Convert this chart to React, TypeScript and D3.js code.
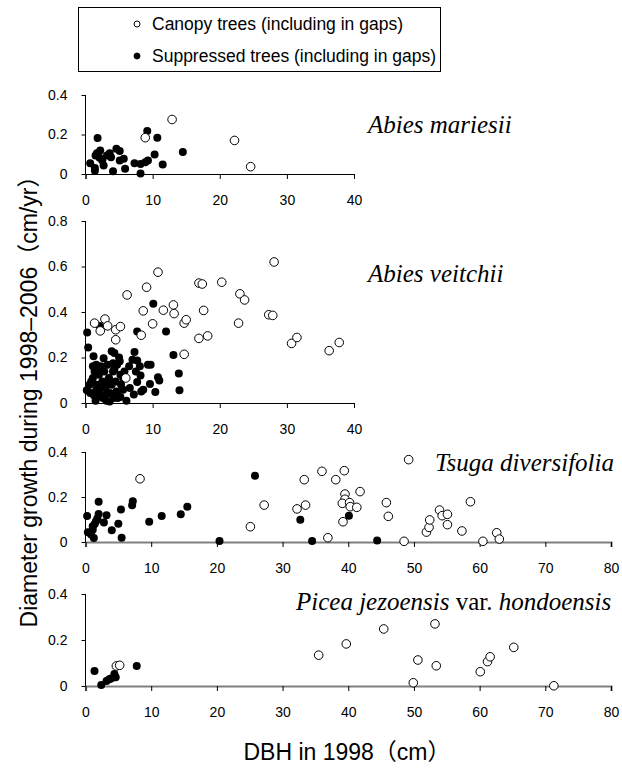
import React, { useEffect, useRef } from "react";
import * as d3 from "d3";

type Pt = [number, number]; // [DBH cm, growth cm/yr]

// Abies mariesii
const mariesiiCanopy: Pt[] = [[12.9, 0.276], [8.9, 0.184], [22.2, 0.17], [24.6, 0.037]];
const mariesiiSuppressed: Pt[] = [
  [0.7, 0.054], [1.4, 0.031], [1.4, 0.017], [1.8, 0.182], [1.5, 0.094], [1.7, 0.105],
  [2.2, 0.119], [2.1, 0.082], [2.5, 0.068], [2.7, 0.043], [3.2, 0.094], [3.6, 0.105],
  [3.8, 0.085], [4.6, 0.128], [5.1, 0.116], [5.1, 0.068], [5.7, 0.077], [5.9, 0.026],
  [4.1, 0.014], [7.3, 0.054], [8.2, 0.051], [8.2, 0.003], [8.9, 0.06], [9.3, 0.068],
  [9.2, 0.218], [10.3, 0.099], [10.7, 0.184], [11.5, 0.048], [14.5, 0.111],
];

// Abies veitchii
const veitchiiCanopy: Pt[] = [
  [1.35, 0.351], [2.2, 0.317], [2.9, 0.369], [3.3, 0.339], [4.5, 0.278], [4.5, 0.322],
  [5.2, 0.336], [6.2, 0.475], [8.3, 0.298], [8.6, 0.405], [9.1, 0.509], [10.0, 0.348],
  [10.8, 0.575], [11.6, 0.408], [13.1, 0.431], [13.2, 0.393], [14.7, 0.351], [15.0, 0.366],
  [14.7, 0.214], [16.9, 0.527], [17.4, 0.523], [17.6, 0.407], [16.9, 0.284], [18.2, 0.295],
  [20.3, 0.531], [23.0, 0.48], [23.7, 0.453], [22.8, 0.351], [27.3, 0.388], [27.9, 0.385],
  [28.1, 0.62], [30.7, 0.262], [31.5, 0.288], [36.3, 0.23], [37.8, 0.266], [6.0, 0.11],
];
const veitchiiSuppressed: Pt[] = [
  [0.25, 0.31], [0.4, 0.244], [2.1, 0.338], [1.2, 0.205], [10.1, 0.436], [7.7, 0.314],
  [12.0, 0.314], [13.1, 0.211], [13.9, 0.13], [14.0, 0.056], [10.4, 0.048], [9.6, 0.083],
  [10.8, 0.113], [11.0, 0.099], [9.3, 0.168], [9.7, 0.168], [7.3, 0.224], [7.7, 0.187],
  [7.0, 0.19], [8.1, 0.161], [8.2, 0.121], [7.5, 0.139], [6.5, 0.161], [7.7, 0.092],
  [8.3, 0.051], [8.6, 0.058], [7.2, 0.037], [6.1, 0.01], [5.2, 0.026], [6.6, 0.066],
  [5.6, 0.058], [0.2, 0.056], [0.6, 0.08], [0.7, 0.044], [1.1, 0.11], [1.1, 0.161],
  [1.25, 0.034], [1.5, 0.01], [1.6, 0.168], [1.7, 0.08], [2.0, 0.124], [2.1, 0.051],
  [2.3, 0.161], [2.5, 0.095], [2.6, 0.022], [2.8, 0.139], [3.0, 0.066], [3.1, 0.01],
  [3.3, 0.168], [3.5, 0.11], [3.6, 0.044], [3.9, 0.08], [3.9, 0.227], [4.1, 0.139],
  [4.2, 0.022], [4.3, 0.22], [4.5, 0.095], [4.6, 0.051], [4.7, 0.168], [5.0, 0.2],
  [5.1, 0.183], [5.2, 0.124], [5.3, 0.08], [5.6, 0.11], [5.8, 0.139], [1.85, 0.029],
  [1.35, 0.139], [2.7, 0.197], [3.2, 0.04], [2.35, 0.08], [4.1, 0.175], [2.0, 0.146],
  [0.85, 0.095], [3.1, 0.095], [3.6, 0.007], [4.8, 0.022], [1.6, 0.058], [2.8, 0.029],
  [4.3, 0.146],
];

// Tsuga diversifolia
const tsugaCanopy: Pt[] = [
  [8.3, 0.281], [25.1, 0.068], [27.2, 0.164], [32.2, 0.147], [33.5, 0.164], [33.3, 0.277],
  [36.0, 0.314], [36.9, 0.019], [38.1, 0.277], [39.4, 0.317], [39.5, 0.213], [39.5, 0.19],
  [39.1, 0.172], [39.2, 0.09], [40.2, 0.175], [40.3, 0.157], [41.3, 0.154], [41.8, 0.224],
  [45.8, 0.175], [46.1, 0.114], [48.5, 0.003], [49.2, 0.366], [51.9, 0.044], [52.3, 0.065],
  [52.4, 0.098], [53.9, 0.142], [54.3, 0.117], [55.1, 0.123], [55.1, 0.077], [57.3, 0.049],
  [58.6, 0.179], [60.5, 0.003], [62.6, 0.041], [63.0, 0.013],
];
const tsugaSuppressed: Pt[] = [
  [0.25, 0.116], [0.36, 0.043], [0.86, 0.033], [1.1, 0.055], [1.1, 0.07], [1.27, 0.018],
  [1.4, 0.08], [1.6, 0.092], [1.8, 0.104], [2.0, 0.124], [2.0, 0.179], [2.8, 0.087],
  [3.2, 0.119], [4.0, 0.052], [5.0, 0.081], [5.4, 0.145], [5.5, 0.019], [7.1, 0.163],
  [7.2, 0.181], [9.7, 0.09], [11.6, 0.116], [14.5, 0.123], [15.5, 0.157], [20.4, 0.004],
  [25.8, 0.295], [32.7, 0.099], [34.5, 0.004], [40.1, 0.117], [44.4, 0.007],
];

// Picea jezoensis var. hondoensis
const piceaCanopy: Pt[] = [
  [4.7, 0.087], [5.2, 0.09], [35.5, 0.134], [39.7, 0.183], [45.4, 0.248], [50.6, 0.113],
  [49.9, 0.014], [53.2, 0.27], [53.4, 0.088], [60.1, 0.062], [61.2, 0.106], [61.6, 0.127],
  [65.2, 0.168], [71.3, 0.001],
];
const piceaSuppressed: Pt[] = [
  [1.37, 0.065], [2.4, 0.004], [3.2, 0.022], [3.6, 0.029], [3.9, 0.033], [4.4, 0.052],
  [4.6, 0.038], [7.8, 0.087],
];

const xTicks40 = [0, 10, 20, 30, 40];
const xTicks80 = [0, 10, 20, 30, 40, 50, 60, 70, 80];
const yTicks04 = [0, 0.2, 0.4];
const yTicks08 = [0, 0.2, 0.4, 0.6, 0.8];

const legendLabels = ["Canopy trees (including in gaps)", "Suppressed trees (including in gaps)"];
const yTitle = "Diameter growth during 1998–2006（cm/yr）";
const xTitle = "DBH in 1998（cm）";

const panels = [
  { title: ["Abies mariesii"], canopy: mariesiiCanopy, suppressed: mariesiiSuppressed,
    xTicks: xTicks40, yTicks: yTicks04, top: 95, bottom: 174, right: 354, axisGrey: false,
    tx: 368, ty: 133 },
  { title: ["Abies veitchii"], canopy: veitchiiCanopy, suppressed: veitchiiSuppressed,
    xTicks: xTicks40, yTicks: yTicks08, top: 221, bottom: 403, right: 354, axisGrey: false,
    tx: 368, ty: 282 },
  { title: ["Tsuga diversifolia"], canopy: tsugaCanopy, suppressed: tsugaSuppressed,
    xTicks: xTicks80, yTicks: yTicks04, top: 452, bottom: 542, right: 611, axisGrey: true,
    tx: 435, ty: 471 },
  { title: ["Picea jezoensis", " var. ", "hondoensis"], canopy: piceaCanopy, suppressed: piceaSuppressed,
    xTicks: xTicks80, yTicks: yTicks04, top: 594, bottom: 686, right: 611, axisGrey: true,
    tx: 296, ty: 610 },
];

const SANS = "'Liberation Sans', Arial, 'Noto Sans CJK JP', sans-serif";
const SERIF = "'Liberation Serif', 'Times New Roman', serif";

const App = () => {
  const ref = useRef<SVGSVGElement>(null);

  useEffect(() => {
    const svg = d3.select(ref.current);
    svg.selectAll("*").remove();
    const left = 85.5;

    panels.forEach((p) => {
      const x = d3.scaleLinear()
        .domain([0, p.xTicks[p.xTicks.length - 1]])
        .range([left, p.right]);
      const y = d3.scaleLinear()
        .domain([0, p.yTicks[p.yTicks.length - 1]])
        .range([p.bottom, p.top]);

      const g = svg.append("g");

      // x axis
      const xa = g.append("g")
        .attr("transform", `translate(0,${p.bottom})`)
        .call(d3.axisBottom(x).tickValues(p.xTicks).tickSize(5).tickPadding(16).tickFormat(d3.format("d")));
      xa.select(".domain")
        .attr("stroke", p.axisGrey ? "#808080" : "#000")
        .attr("stroke-width", p.axisGrey ? 2.2 : 1);
      xa.selectAll(".tick line").attr("stroke", "#000");
      xa.selectAll(".tick text").attr("font-size", 14).attr("font-family", SANS).attr("fill", "#000");

      // y axis
      const ya = g.append("g")
        .attr("transform", `translate(${left},0)`)
        .call(d3.axisLeft(y).tickValues(p.yTicks).tickSize(4).tickPadding(14)
          .tickFormat((d) => (+d === 0 ? "0" : d3.format(".1f")(+d))));
      ya.select(".domain").attr("stroke", "#000").attr("d", `M0,${p.bottom}V${p.top}`);
      ya.selectAll(".tick text").attr("font-size", 14).attr("font-family", SANS).attr("fill", "#000");

      // points: suppressed first, canopy on top
      g.append("g").selectAll("circle").data(p.suppressed).enter()
        .append("circle")
        .attr("cx", (d) => x(d[0]))
        .attr("cy", (d) => y(d[1]))
        .attr("r", 4)
        .attr("fill", "#000");
      g.append("g").selectAll("circle").data(p.canopy).enter()
        .append("circle")
        .attr("cx", (d) => x(d[0]))
        .attr("cy", (d) => y(d[1]))
        .attr("r", 4.3)
        .attr("fill", "#fff")
        .attr("stroke", "#000")
        .attr("stroke-width", 1);

      // species title
      const t = g.append("text")
        .attr("x", p.tx)
        .attr("y", p.ty)
        .attr("font-family", SERIF)
        .attr("font-size", 25);
      p.title.forEach((s, i) => {
        t.append("tspan").text(s).attr("font-style", i === 1 ? "normal" : "italic");
      });
    });

    // legend
    const lg = svg.append("g");
    lg.append("rect")
      .attr("x", 78.5).attr("y", 7.5).attr("width", 362).attr("height", 64)
      .attr("fill", "#fff").attr("stroke", "#000");
    legendLabels.forEach((s, i) => {
      const cy = 24 + i * 32;
      lg.append("circle")
        .attr("cx", 137).attr("cy", cy).attr("r", 3)
        .attr("fill", i === 0 ? "#fff" : "#000")
        .attr("stroke", "#000");
      lg.append("text")
        .attr("x", 152).attr("y", cy + 6)
        .attr("font-family", SANS).attr("font-size", 17.5)
        .text(s);
    });

    // axis titles
    svg.append("text")
      .attr("transform", "translate(37,396) rotate(-90)")
      .attr("text-anchor", "middle")
      .attr("font-family", SANS)
      .attr("font-size", 23)
      .text(yTitle);
    svg.append("text")
      .attr("x", 347).attr("y", 760)
      .attr("text-anchor", "middle")
      .attr("font-family", SANS)
      .attr("font-size", 23)
      .text(xTitle);
  }, []);

  return (
    <svg ref={ref} width={622} height={771}
      style={{ position: "absolute", left: 0, top: 0, background: "#fff" }} />
  );
};

export default App;
